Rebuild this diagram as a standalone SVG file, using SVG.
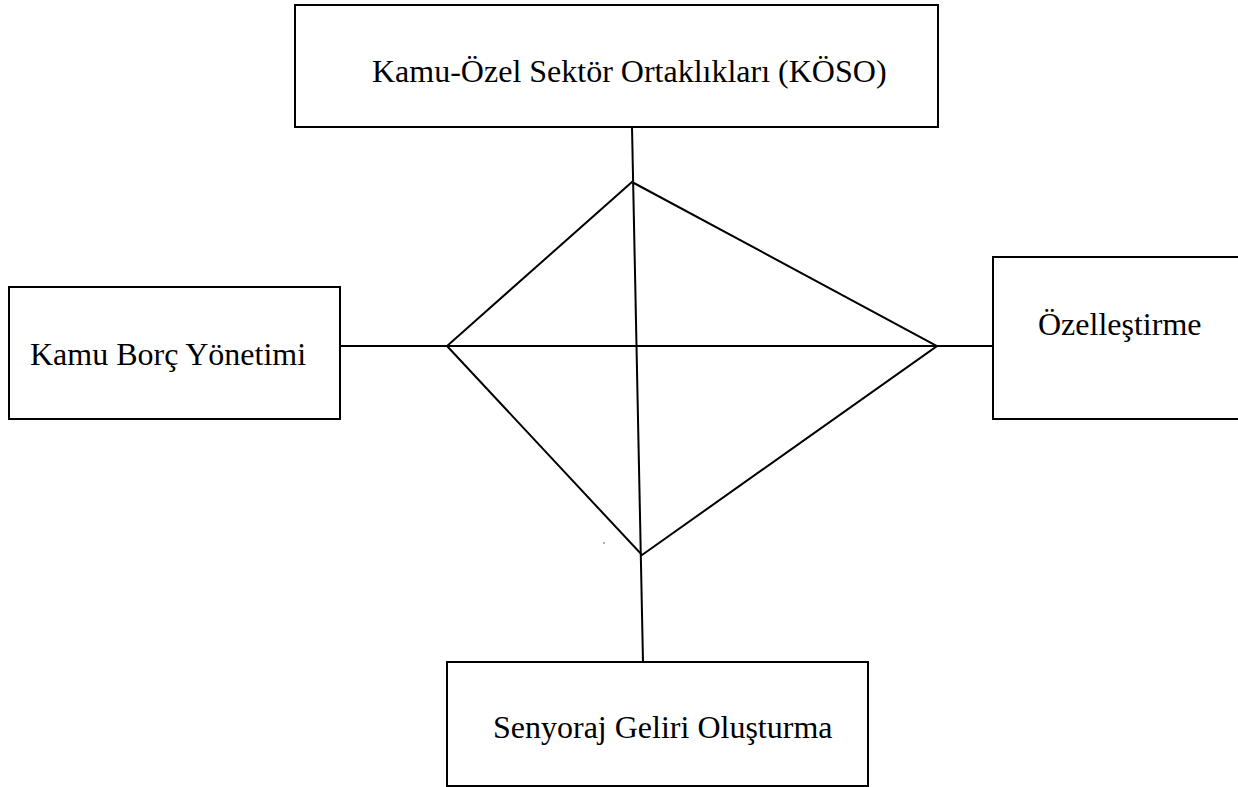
<svg xmlns="http://www.w3.org/2000/svg" width="1238" height="787" viewBox="0 0 1238 787">
<style>
.box{fill:#fff;stroke:#000;stroke-width:2}
.ln{fill:none;stroke:#000;stroke-width:2}
.t{font-family:"Liberation Serif","Times New Roman",serif;font-size:32px;fill:#000}
</style>
<rect width="1238" height="787" fill="#fff"/>
<g id="connectors">
<line class="ln" x1="632" y1="127" x2="643" y2="662"/>
<line class="ln" x1="340" y1="346" x2="993" y2="346"/>
<polygon class="ln" points="632,182 937,346 642,555 447,346"/>
</g>
<g id="koso">
<rect class="box" x="295" y="5" width="643" height="122"/>
<text class="t" x="372" y="82">Kamu-Özel Sektör Ortaklıkları (KÖSO)</text>
</g>
<g id="borc">
<rect class="box" x="9" y="287" width="331" height="132"/>
<text class="t" x="30" y="365">Kamu Borç Yönetimi</text>
</g>
<g id="ozel">
<rect class="box" x="993" y="257" width="260" height="162"/>
<text class="t" x="1038" y="335">Özelleştirme</text>
</g>
<g id="senyoraj">
<rect class="box" x="447" y="662" width="421" height="124"/>
<text class="t" x="493" y="738">Senyoraj Geliri Oluşturma</text>
</g>
<circle cx="604" cy="543" r="0.8" fill="#555"/>
</svg>
